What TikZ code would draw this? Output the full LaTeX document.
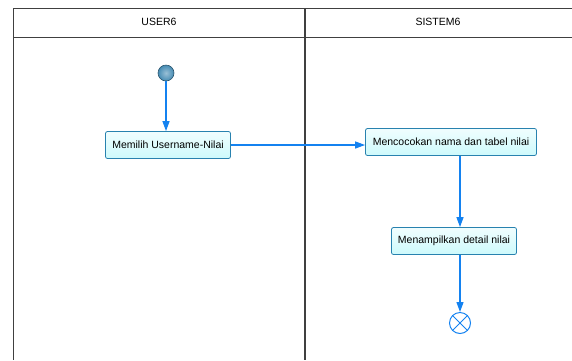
\documentclass[tikz,border=0pt]{standalone}
\usepackage{fontspec}
\setmainfont{Liberation Sans}
\usetikzlibrary{arrows.meta}

\definecolor{flowblue}{RGB}{20,130,240}
\definecolor{boxedge}{RGB}{40,130,175}
\definecolor{boxfill}{RGB}{205,250,252}
\definecolor{startfill}{RGB}{70,140,180}

\tikzset{
  lane/.style={draw=black!75, line width=0.8pt},
  laneTitle/.style={font=\fontsize{10.5}{12}\selectfont},
  activity/.style={draw=boxedge, line width=0.8pt, rounded corners=2pt,
    top color=boxfill!30, bottom color=boxfill, inner sep=0pt,
    minimum height=27pt, font=\fontsize{10.5}{12}\selectfont},
  flow/.style={draw=flowblue, line width=1.2pt,
    -{Triangle[length=10pt,width=7pt]}},
}

\begin{document}
\begin{tikzpicture}[x=1pt, y=-1pt]
\useasboundingbox (0,0) rectangle (572,360);

% swimlanes
\draw[lane]   (13,8) -- (572,8);
\draw[lane]   (13,37) -- (572,37);
\draw[lane]   (13,8) -- (13,360);
\draw[lane, line width=1.3pt]   (305,8) -- (305,360);

% Heading
\node (hUser)   [laneTitle] at (159,22) {USER6};
\node (hSistem) [laneTitle] at (438,22) {SISTEM6};

% start / end
\node (start) [circle, draw=startfill!60!black, line width=0.6pt,
  inner sep=0pt, minimum size=16pt,
  inner color=startfill!55, outer color=startfill] at (166,73) {};
\node (stop) [circle, draw=flowblue, line width=1pt, inner sep=0pt,
  minimum size=21pt,
  path picture={\draw[flowblue, line width=1pt]
    (path picture bounding box.north west) -- (path picture bounding box.south east)
    (path picture bounding box.north east) -- (path picture bounding box.south west);}]
  at (460,323) {};

% activities
\node (pilih)    [activity, minimum width=125pt] at (168,145) {Memilih Username-Nilai};
\node (cocok)    [activity, minimum width=171pt] at (451,142) {Mencocokan nama dan tabel nilai};
\node (tampil)   [activity, minimum width=125pt] at (454,241) {Menampilkan detail nilai};

% flows
\draw [flow] (start) -- (start |- pilih.north);
\draw [flow] (pilih.east) -- (pilih.east -| cocok.west);
\draw [flow] (cocok.south -| stop) -- (tampil.north -| stop);
\draw [flow] (tampil.south -| stop) -- (stop);
\end{tikzpicture}
\end{document}
